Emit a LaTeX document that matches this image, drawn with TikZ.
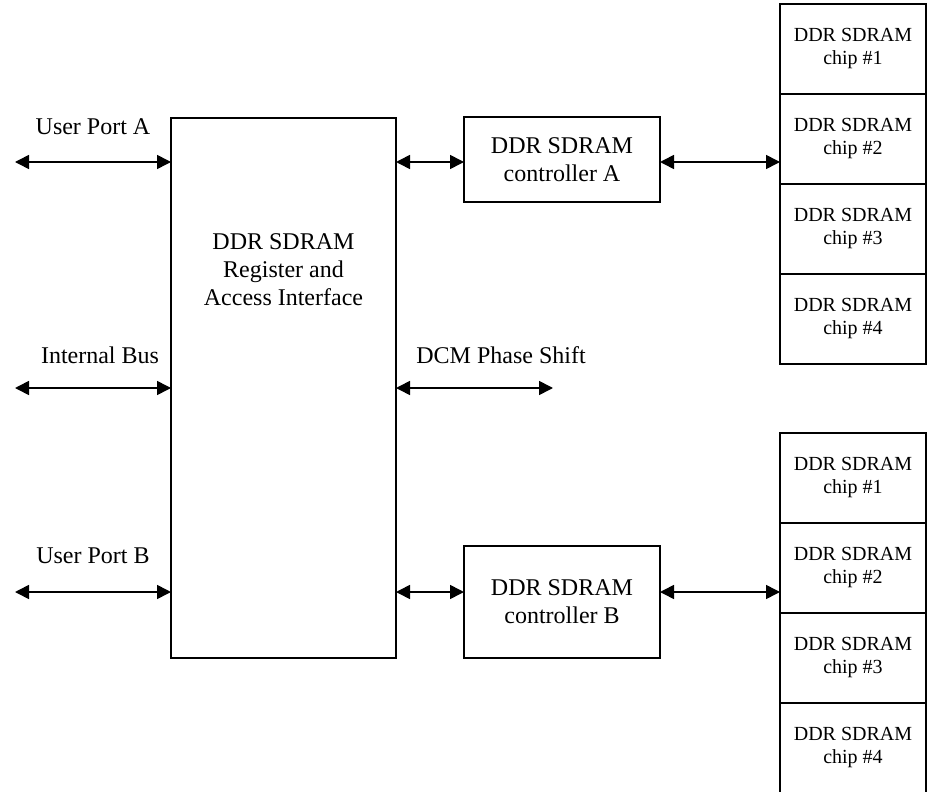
\documentclass[tikz,border=0pt]{standalone}
\usepackage{fontspec}
\setmainfont{Liberation Serif}
\usetikzlibrary{arrows.meta,positioning}

\begin{document}
\begin{tikzpicture}[
  x=0.5pt,
  y=-0.5pt,
  block/.style={
    draw,
    thick,
    align=center,
    inner sep=0pt,
    outer sep=0pt,
    font=\fontsize{12pt}{14pt}\selectfont
  },
  chip/.style={
    draw,
    thick,
    align=center,
    minimum width=73pt,
    minimum height=45pt,
    inner sep=0pt,
    outer sep=0pt,
    font=\fontsize{10pt}{11.5pt}\selectfont
  },
  lbl/.style={
    align=center,
    inner sep=0pt,
    font=\fontsize{12pt}{14pt}\selectfont
  },
  link/.style={{Triangle[length=7pt,width=7pt]}-{Triangle[length=7pt,width=7pt]},thick}
]
\useasboundingbox (0,0) rectangle (927,792);
\node[block,minimum width=112.5pt,minimum height=270pt] (regif) at (283.5,388) {};
\node[lbl] (regiftext) at ([yshift=-76pt]regif.north) {
  DDR SDRAM\\
  Register and\\
  Access Interface
};
\node[block,minimum width=98pt,minimum height=42.5pt] (ctrlA) at (562,159.5) {DDR SDRAM\\controller A};
\node[block,minimum width=98pt,minimum height=56pt] (ctrlB) at (562,602) {DDR SDRAM\\controller B};
% upper chip stack
\node[chip,anchor=north west] (chipA1) at (780,4) {DDR SDRAM\\chip \#1};
\node[chip,below=0pt of chipA1] (chipA2) {DDR SDRAM\\chip \#2};
\node[chip,below=0pt of chipA2] (chipA3) {DDR SDRAM\\chip \#3};
\node[chip,below=0pt of chipA3] (chipA4) {DDR SDRAM\\chip \#4};
% lower chip stack
\node[chip,anchor=north west] (chipB1) at (780,433) {DDR SDRAM\\chip \#1};
\node[chip,below=0pt of chipB1] (chipB2) {DDR SDRAM\\chip \#2};
\node[chip,below=0pt of chipB2] (chipB3) {DDR SDRAM\\chip \#3};
\node[chip,below=0pt of chipB3] (chipB4) {DDR SDRAM\\chip \#4};
% port labels
\node[lbl] (upalbl) at (93,127) {User Port A};
\node[lbl] (ibuslbl) at (100,355) {Internal Bus};
\node[lbl] (upblbl) at (93,556) {User Port B};
\node[lbl,anchor=west] (dcmlbl) at (416,355) {DCM Phase Shift};
\coordinate (upa) at (15,162);
\coordinate (ibus) at (15,388);
\coordinate (upb) at (15,592);
\coordinate (dcm) at (553,388);
\draw[link] (upa) -- (regif.west |- upa);
\draw[link] (ibus) -- (regif.west |- ibus);
\draw[link] (upb) -- (regif.west |- upb);
\draw[link] (regif.east |- upa) -- (ctrlA.west |- upa);
\draw[link] (ctrlA.east |- upa) -- (chipA2.west |- upa);
\draw[link] (regif.east) -- (dcm);
\draw[link] (regif.east |- upb) -- (ctrlB.west |- upb);
\draw[link] (ctrlB.east |- upb) -- (chipB2.west |- upb);
\end{tikzpicture}
\end{document}
